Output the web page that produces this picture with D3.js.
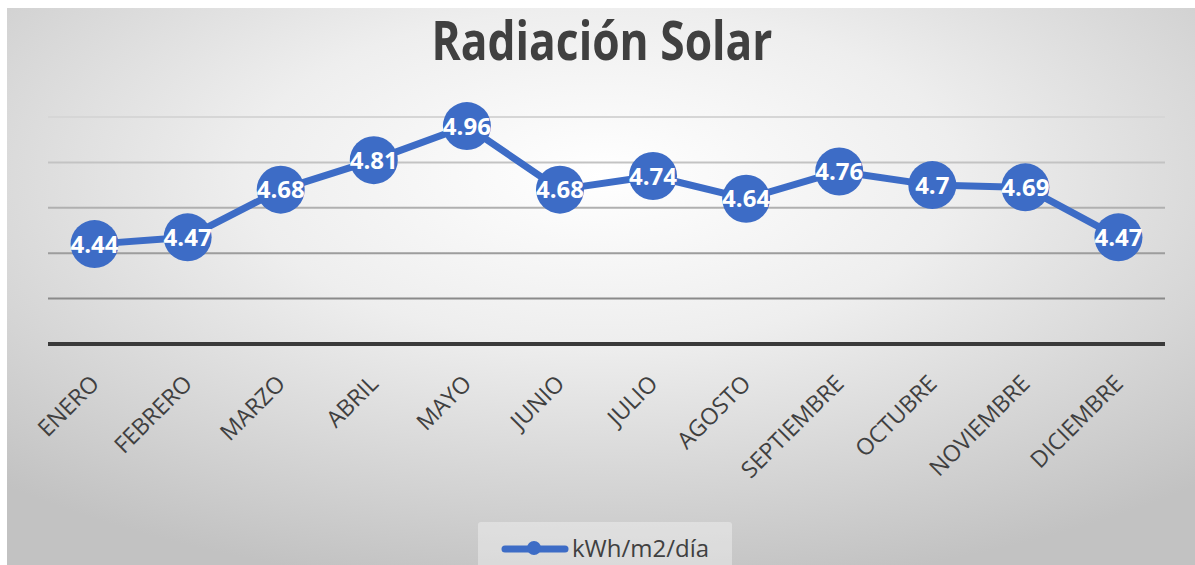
<html>
<head>
<style>
  body { margin: 0; background: #fff; }
  svg { display: block; }
</style>
<script src="https://cdn.jsdelivr.net/npm/d3@7"></script>
</head>
<body>
<svg id="main"></svg>
<script>
  // data
  const months = ["ENERO", "FEBRERO", "MARZO", "ABRIL", "MAYO", "JUNIO", "JULIO",
                  "AGOSTO", "SEPTIEMBRE", "OCTUBRE", "NOVIEMBRE", "DICIEMBRE"]
  const radiation = [4.44, 4.47, 4.68, 4.81, 4.96, 4.68, 4.74, 4.64, 4.76, 4.7, 4.69, 4.47]
  const gridValues = [4.2, 4.4, 4.6, 4.8, 5.0]
  const seriesName = "kWh/m2/día"
  const chartTitle = "Radiación Solar"

  const width = 1195
  const height = 565
  const blue = "#3d6cc6"
  const textGray = "#404040"

  const margin = {top: 117, right: 30, bottom: 221, left: 48}

  const svg = d3.select("#main")
    .attr("width", width)
    .attr("height", height)

  // background gradient like the office chart area
  const defs = svg.append("defs")
  const grad = defs.append("radialGradient")
    .attr("id", "bg")
    .attr("cx", "50%").attr("cy", "30%").attr("r", "75%")
  grad.append("stop").attr("offset", "0%").attr("stop-color", "#ffffff")
  grad.append("stop").attr("offset", "40%").attr("stop-color", "#eeeeee")
  grad.append("stop").attr("offset", "100%").attr("stop-color", "#c2c2c2")

  svg.append("rect")
    .attr("x", 7).attr("y", 8)
    .attr("width", width - 7).attr("height", height - 8)
    .attr("fill", "url(#bg)")

  const x = d3.scalePoint(months, [margin.left, width - margin.right]).padding(0.5)
  const y = d3.scaleLinear([4.0, 5.0], [height - margin.bottom, margin.top])

  // gridlines, darker towards the bottom
  const gridColor = d3.scaleLinear([4.2, 5.0], ["#8a8a8a", "#d6d6d6"])
  svg.append("g")
    .selectAll("line")
    .data(gridValues)
    .join("line")
    .attr("x1", margin.left)
    .attr("x2", width - margin.right)
    .attr("y1", d => y(d))
    .attr("y2", d => y(d))
    .attr("stroke", d => gridColor(d))
    .attr("stroke-width", 2)

  // x axis line
  svg.append("line")
    .attr("x1", margin.left)
    .attr("x2", width - margin.right)
    .attr("y1", y(4.0))
    .attr("y2", y(4.0))
    .attr("stroke", "#3a3a3a")
    .attr("stroke-width", 4)

  // month labels
  svg.append("g")
    .attr("font-family", "'Open Sans', sans-serif")
    .attr("font-size", 23)
    .attr("fill", textGray)
    .attr("text-anchor", "end")
    .selectAll("text")
    .data(months)
    .join("text")
    .attr("transform", d => `translate(${x(d) + 6},${y(4.0) + 41}) rotate(-45)`)
    .text(d => d)

  // line
  const line = d3.line()
    .x((d, i) => x(months[i]))
    .y(d => y(d))

  svg.append("path")
    .datum(radiation)
    .attr("fill", "none")
    .attr("stroke", blue)
    .attr("stroke-width", 7)
    .attr("stroke-linejoin", "round")
    .attr("d", line)

  // markers
  svg.append("g")
    .selectAll("circle")
    .data(radiation)
    .join("circle")
    .attr("cx", (d, i) => x(months[i]))
    .attr("cy", d => y(d))
    .attr("r", 24)
    .attr("fill", blue)

  // value labels
  svg.append("g")
    .attr("font-family", "'Open Sans', sans-serif")
    .attr("font-size", 24)
    .attr("font-weight", "bold")
    .attr("fill", "white")
    .attr("text-anchor", "middle")
    .selectAll("text")
    .data(radiation)
    .join("text")
    .attr("x", (d, i) => x(months[i]))
    .attr("y", d => y(d))
    .attr("dy", "0.36em")
    .text(d => d)

  // title
  svg.append("text")
    .attr("x", 602)
    .attr("y", 60)
    .attr("text-anchor", "middle")
    .attr("font-family", "'Open Sans', sans-serif")
    .attr("font-weight", "bold")
    .attr("font-size", 53)
    .attr("fill", textGray)
    .attr("textLength", 341)
    .attr("lengthAdjust", "spacingAndGlyphs")
    .text(chartTitle)

  // legend
  const legend = svg.append("g")
  legend.append("rect")
    .attr("x", 478).attr("y", 522)
    .attr("width", 254).attr("height", 50)
    .attr("rx", 3)
    .attr("fill", "#ffffff").attr("fill-opacity", 0.35)
  legend.append("line")
    .attr("x1", 505).attr("x2", 565)
    .attr("y1", 549).attr("y2", 549)
    .attr("stroke", blue)
    .attr("stroke-width", 7)
    .attr("stroke-linecap", "round")
  legend.append("circle")
    .attr("cx", 534).attr("cy", 548)
    .attr("r", 7)
    .attr("fill", blue)
  legend.append("text")
    .attr("x", 572).attr("y", 557)
    .attr("font-family", "'Open Sans', sans-serif")
    .attr("font-size", 24)
    .attr("fill", textGray)
    .text(seriesName)
</script>
</body>
</html>
